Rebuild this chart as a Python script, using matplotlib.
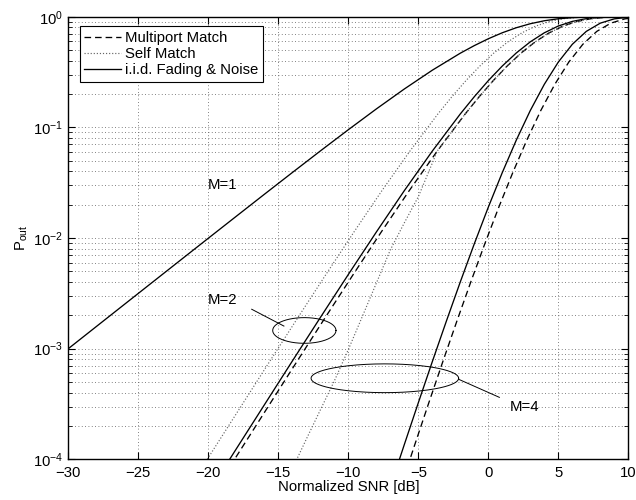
import numpy as np
import matplotlib
matplotlib.use('Agg')
import matplotlib.pyplot as plt

plt.rcParams['font.family'] = ['Liberation Sans', 'DejaVu Sans']
plt.rcParams['mathtext.default'] = 'regular'
plt.rcParams['font.size'] = 10.7

# M=1, i.i.d. fading & noise (self / multiport match lie on top of it)
snr_m1 = [-30, -28, -26, -24, -22, -20, -18, -16, -14, -12, -10, -8, -6, -4, -2, -1,
          0, 1, 2, 3, 4, 5, 6, 7, 8, 9, 10]
iid_m1 = [9.995e-4, 1.584e-3, 2.509e-3, 3.973e-3, 6.29e-3, 9.95e-3, 0.01572, 0.02481,
          0.03903, 0.06115, 0.09516, 0.1466, 0.2221, 0.3284, 0.468, 0.548,
          0.632, 0.716, 0.795, 0.864, 0.919, 0.958, 0.981, 0.9933, 0.9982, 0.99964, 0.99995]

# M=2
snr_m2 = [-20, -18, -16, -14, -12, -10, -8, -6, -4, -2, -1, 0, 1, 2, 3, 4, 5, 6, 7, 8, 9, 10]
iid_m2 = [4.97e-5, 1.243e-4, 3.10e-4, 7.72e-4, 1.909e-3, 4.679e-3, 0.01131, 0.02677,
          0.0610, 0.1322, 0.1892, 0.2642, 0.3585, 0.4702, 0.5927, 0.7151, 0.8238,
          0.9070, 0.9600, 0.9867, 0.99683, 0.9995]
snr_m2_multi = [-19.65, -17.65, -15.65, -13.65, -11.65, -9.65, -7.65, -5.65, -3.65, -1.65,
                -0.65, 0.35, 1.35, 2.35, 3.35, 4.35, 5.35, 6.35, 7.35, 8.35, 9.35, 10.35]
multi_m2 = iid_m2
snr_m2_self = [-21.6, -19.6, -17.6, -15.6, -13.6, -11.6, -9.6, -7.6, -5.6, -3.6, -2.6,
               -1.6, -0.6, 0.4, 1.4, 2.4, 3.4, 4.4, 5.4, 6.4, 7.4, 8.4]
self_m2 = iid_m2

# M=4
snr_m4 = [-7, -6, -5, -4, -3, -2, -1, 0, 1, 2, 3, 4, 5, 6, 7, 8, 9, 10]
iid_m4 = [5.63e-5, 1.358e-4, 3.240e-4, 7.628e-4, 1.766e-3, 4.010e-3, 8.864e-3, 0.01899,
          0.03905, 0.0767, 0.1420, 0.2448, 0.3890, 0.5629, 0.7368, 0.8744, 0.9560, 0.98966]
snr_m4_multi = [-6.25, -5.25, -4.25, -3.25, -2.25, -1.25, -0.25, 0.75, 1.75, 2.75, 3.75,
                4.75, 5.75, 6.75, 7.75, 8.75, 9.75, 10.75]
multi_m4 = iid_m4
snr_m4_self = [-14, -13, -12, -11, -10, -9, -8, -7, -6, -5, -4, -3.65, -1.65, -0.65, 0.35,
               1.35, 2.35, 3.35, 4.35, 5.35, 6.35, 7.35, 8.35, 9.35, 10.35]
self_m4 = [8.2e-5, 1.52e-4, 2.79e-4, 5.1e-4, 9.8e-4, 1.95e-3, 3.9e-3, 7.8e-3, 0.0137,
           0.0236, 0.0475, 0.0610, 0.1322, 0.1892, 0.2642, 0.3585, 0.4702, 0.5927,
           0.7151, 0.8238, 0.9070, 0.9600, 0.9867, 0.99683, 0.9995]

dash = (0, (5, 3))
dots = (0, (1, 1.6))
lw = 0.95

fig = plt.figure(figsize=(6.36, 5.0), dpi=100)
ax = fig.add_axes([0.1074, 0.0814, 0.8805, 0.8852])
ax.set_yscale('log')

ax.plot(snr_m2_multi, multi_m2, color='k', lw=lw, ls=dash, label='Multiport Match')
ax.plot(snr_m2_self, self_m2, color='0.4', lw=0.85, ls=dots, label='Self Match')
ax.plot(snr_m1, iid_m1, color='k', lw=lw, label='i.i.d. Fading & Noise')
ax.plot(snr_m2, iid_m2, color='k', lw=lw)
ax.plot(snr_m4, iid_m4, color='k', lw=lw)
ax.plot(snr_m4_multi, multi_m4, color='k', lw=lw, ls=dash)
ax.plot(snr_m4_self, self_m4, color='0.4', lw=0.85, ls=dots)

ax.set_xlim(-30, 10)
ax.set_ylim(1e-4, 1)
ax.set_xticks(np.arange(-30, 11, 5))
ax.grid(True, which='major', color='0.35', ls=(0, (1, 3)), lw=0.6)
ax.grid(True, which='minor', axis='y', color='0.35', ls=(0, (1, 3)), lw=0.6)
ax.tick_params(which='both', direction='in', top=True, right=True)
ax.tick_params(which='major', length=5, width=0.8)
ax.tick_params(which='minor', length=3, width=0.6)
ax.tick_params(axis='x', pad=5)
for s in ax.spines.values():
    s.set_linewidth(1.0)

ax.set_xlabel('Normalized SNR [dB]', labelpad=0)
ax.set_ylabel('P$_{out}$', labelpad=2)

# annotations: labels, ellipses around curve groups, leader lines
ax.text(-19.0, 0.030, 'M=1', ha='center', va='center')
ax.text(-19.0, 2.75e-3, 'M=2', ha='center', va='center')
ax.text(2.62, 2.94e-4, 'M=4', ha='center', va='center')

t = np.linspace(0, 2 * np.pi, 200)
for cx, cy, a, b in [(-13.14, 1.46e-3, 2.26, 0.116), (-7.39, 5.4e-4, 5.27, 0.13)]:
    ax.plot(cx + a * np.cos(t), cy * 10 ** (b * np.sin(t)), color='k', lw=0.7)
ax.plot([-16.9, -14.6], [2.27e-3, 1.60e-3], color='k', lw=0.7)
ax.plot([-2.11, 0.79], [5.28e-4, 3.63e-4], color='k', lw=0.7)

leg = ax.legend(loc='upper left', bbox_to_anchor=(0.02, 0.978), borderaxespad=0,
                fancybox=False, framealpha=1, edgecolor='k', handlelength=2.5,
                handletextpad=0.25, labelspacing=0.15, borderpad=0.3)
leg.get_frame().set_linewidth(0.8)

fig.savefig('out.png', dpi=100)
